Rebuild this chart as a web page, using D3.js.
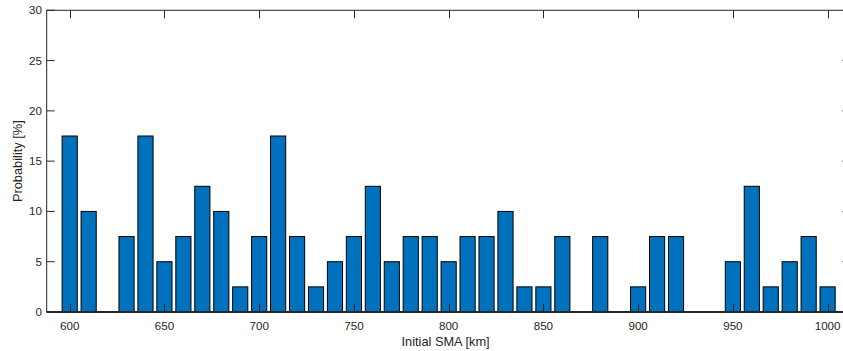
<!DOCTYPE html>
<html><head><meta charset="utf-8">
<script src="https://cdn.jsdelivr.net/npm/d3@7"></script>
<style>body{margin:0;background:#fff}svg{display:block}text{font-family:"Liberation Sans",Arial,sans-serif;fill:#262626}</style>
</head><body>
<script>
const sma = [600,610,620,630,640,650,660,670,680,690,700,710,720,730,740,750,760,770,780,790,800,810,820,830,840,850,860,870,880,890,900,910,920,930,940,950,960,970,980,990,1000];
const probability = [17.5,10,0,7.5,17.5,5,7.5,12.5,10,2.5,7.5,17.5,7.5,2.5,5,7.5,12.5,5,7.5,7.5,5,7.5,7.5,10,2.5,2.5,7.5,0,7.5,0,2.5,7.5,7.5,0,0,5,12.5,2.5,5,7.5,2.5];
const xTicks = [600,650,700,750,800,850,900,950,1000];
const yTicks = [0,5,10,15,20,25,30];

const W = 843, H = 351;
const svg = d3.select("body").append("svg").attr("width", W).attr("height", H);
const mLeft = 46.7, mTop = 10.3, mBottom = 312;
const x = d3.scaleLinear().domain([600, 1000]).range([69.7, 827.6]);
const mRight = x(1012);
const y = d3.scaleLinear().domain([0, 30]).range([mBottom, mTop]);
const axisColor = "#262626";

// bars
const bw = x(608) - x(600);
svg.append("g").selectAll("rect").data(sma).join("rect")
  .attr("x", (d) => x(d) - bw / 2)
  .attr("width", bw)
  .attr("y", (d, i) => y(probability[i]))
  .attr("height", (d, i) => y(0) - y(probability[i]))
  .attr("fill", "#0072BD").attr("stroke", "#000").attr("stroke-width", 1);

// box
const g = svg.append("g").attr("stroke", axisColor).attr("fill", "none").attr("stroke-width", 1);
g.append("rect").attr("x", mLeft).attr("y", mTop).attr("width", mRight - mLeft).attr("height", mBottom - mTop);
// baseline
g.append("line").attr("x1", mLeft).attr("x2", mRight).attr("y1", y(0)).attr("y2", y(0)).attr("stroke-width", 2);
const tl = 8;
xTicks.forEach(t => {
  const px = Math.round(x(t)) + 0.5;
  g.append("line").attr("x1", px).attr("x2", px).attr("y1", mBottom).attr("y2", mBottom - tl);
  g.append("line").attr("x1", px).attr("x2", px).attr("y1", mTop).attr("y2", mTop + tl);
});
yTicks.forEach(t => {
  const py = y(t);
  g.append("line").attr("x1", mLeft).attr("x2", mLeft + tl).attr("y1", py).attr("y2", py);
  g.append("line").attr("x1", mRight).attr("x2", mRight - tl).attr("y1", py).attr("y2", py);
});

// tick labels
svg.append("g").selectAll("text").data(xTicks).join("text")
  .attr("x", d => x(d)).attr("y", 330).attr("text-anchor", "middle")
  .attr("font-size", "11.6px").text(d => d);
svg.append("g").selectAll("text").data(yTicks).join("text")
  .attr("x", 42).attr("y", d => y(d)).attr("dy", "0.35em").attr("text-anchor", "end")
  .attr("font-size", "11.6px").text(d => d);

// axis labels
svg.append("text").attr("x", (mLeft + 850.5) / 2 - 3).attr("y", 346).attr("text-anchor", "middle")
  .attr("font-size", "12.8px").text("Initial SMA [km]");
svg.append("text").attr("transform", `translate(22,${(mTop + mBottom) / 2}) rotate(-90)`)
  .attr("text-anchor", "middle").attr("font-size", "12.8px").text("Probability [%]");
</script>
</body></html>
